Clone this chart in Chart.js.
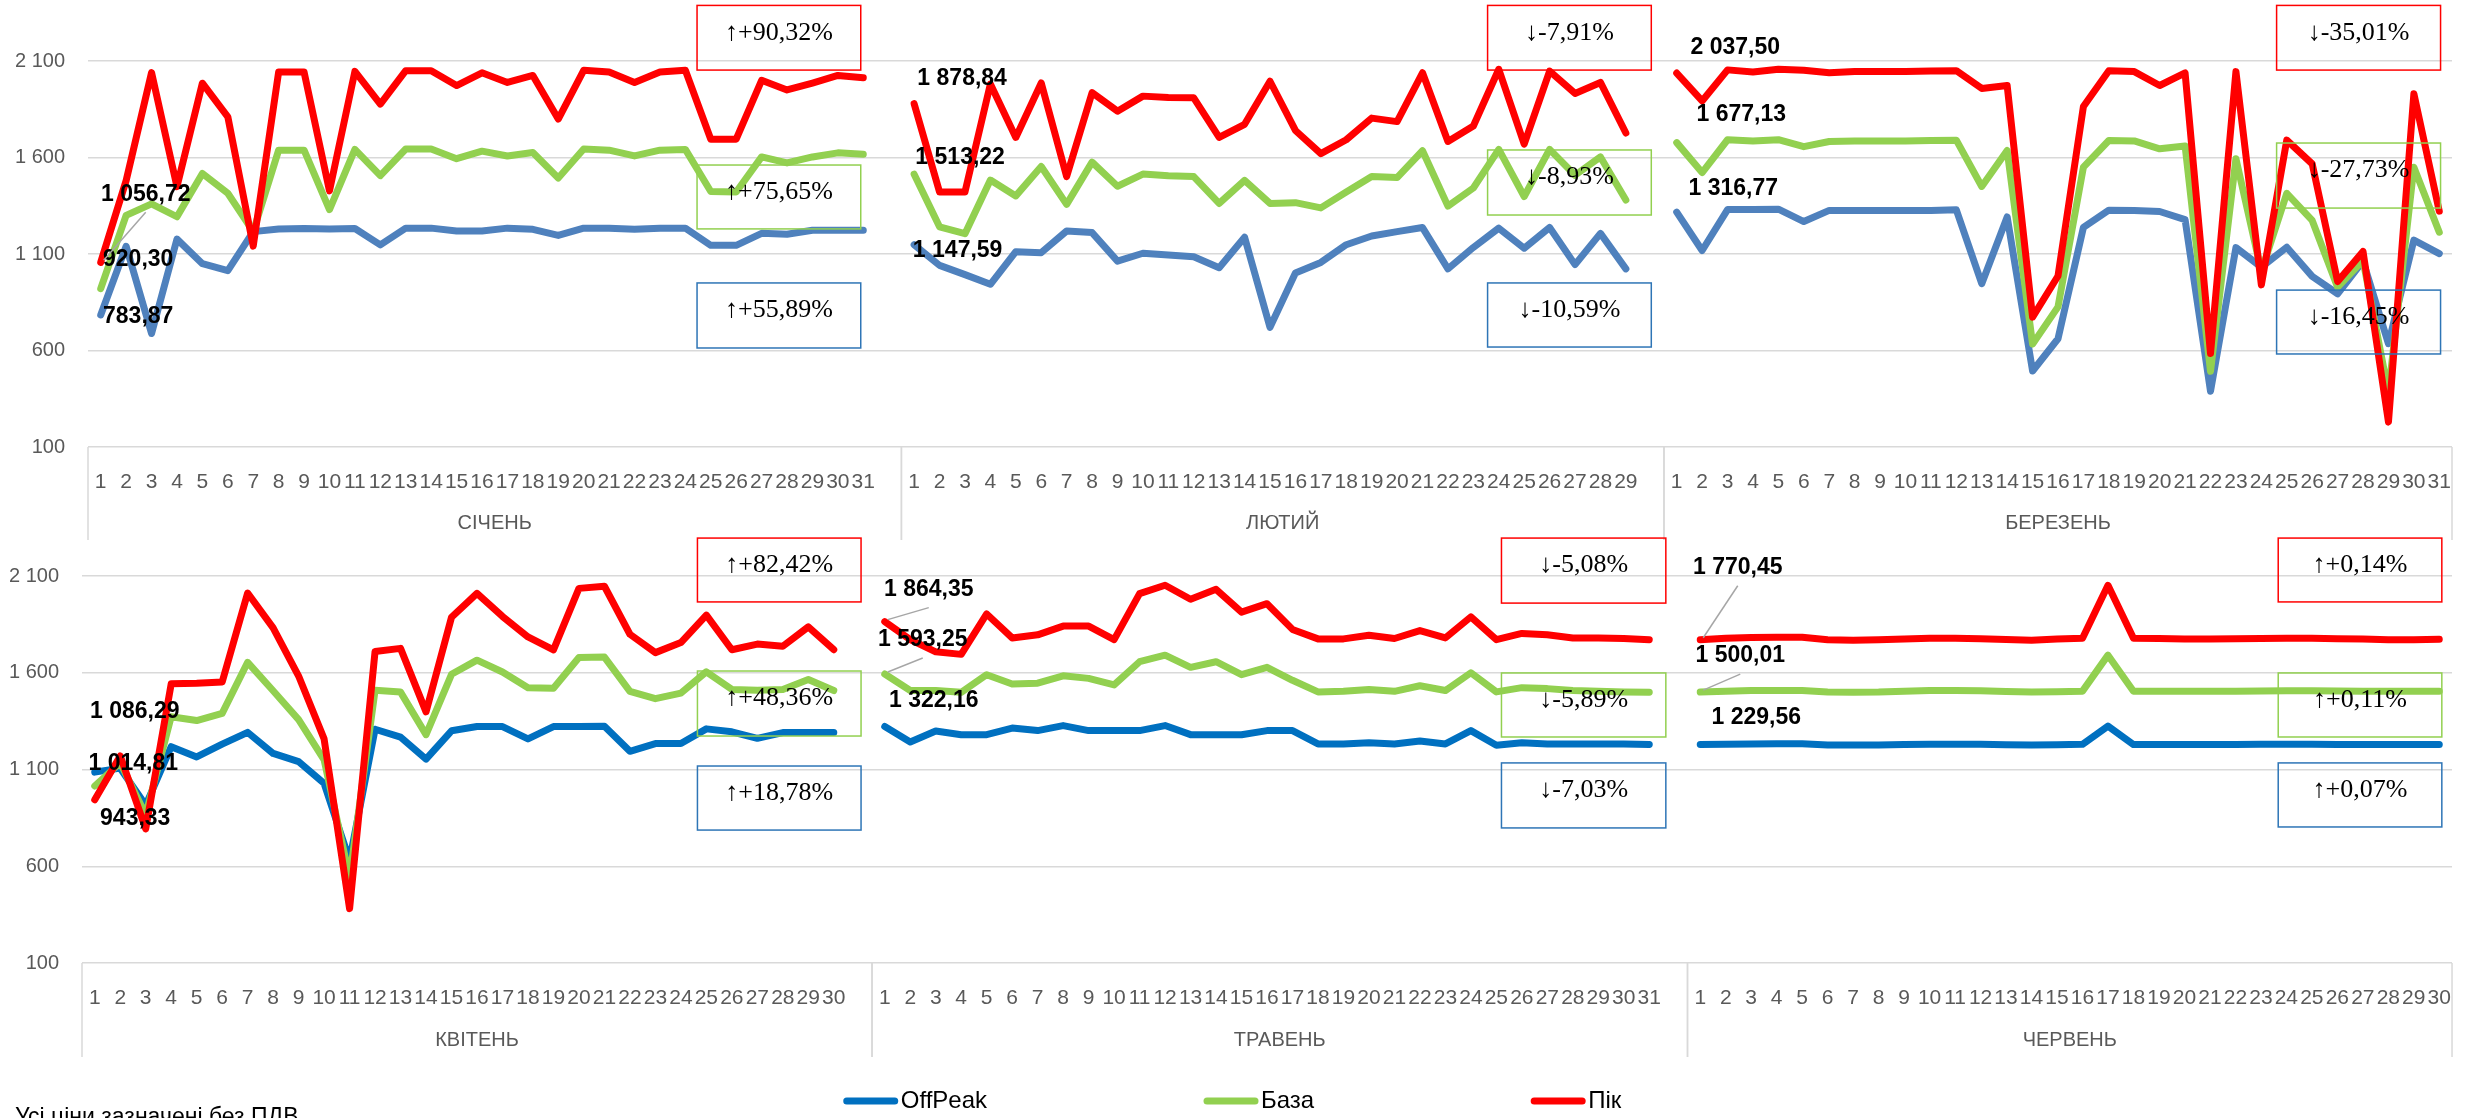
<!DOCTYPE html>
<html>
<head>
<meta charset="utf-8">
<script src="https://cdn.jsdelivr.net/npm/chart.js@4.4.0/dist/chart.umd.min.js"></script>
<style>
  html, body { margin: 0; padding: 0; background: #fff; }
  #wrap { position: relative; width: 2466px; height: 1118px; overflow: hidden; }
  canvas { position: absolute; left: 0; }
  #topRow { top: 0; }
  #bottomRow { top: 530px; }
</style>
</head>
<body>
<div id="wrap">
  <canvas id="topRow" width="2466" height="540"></canvas>
  <canvas id="bottomRow" width="2466" height="588"></canvas>
</div>
<script>
// series names (legend)
const seriesNames = ["OffPeak", "База", "Пік"];

// months
const monthsTop = ["СІЧЕНЬ", "ЛЮТИЙ", "БЕРЕЗЕНЬ"];
const monthsBottom = ["КВІТЕНЬ", "ТРАВЕНЬ", "ЧЕРВЕНЬ"];
const daysTop = [31, 29, 31];
const daysBottom = [30, 31, 30];
const yTicks = [100, 600, 1100, 1600, 2100];

// daily prices, грн/МВт·год
const janOffPeak = [783.87, 1140, 688, 1177, 1050, 1014, 1216, 1230, 1232, 1230, 1232, 1147, 1234, 1234, 1219, 1219, 1234, 1228, 1196, 1234, 1234, 1228, 1234, 1234, 1145, 1145, 1207, 1202, 1223, 1223, 1223];
const janBaza = [920.30, 1300, 1360, 1293, 1517, 1415, 1216, 1638, 1638, 1330, 1642, 1506, 1644, 1644, 1594, 1633, 1608, 1626, 1494, 1644, 1638, 1608, 1638, 1642, 1424, 1421, 1603, 1572, 1603, 1624, 1617];
const janPik = [1056.72, 1480, 2040, 1449, 1985, 1811, 1141, 2043, 2043, 1427, 2046, 1877, 2050, 2050, 1973, 2039, 1989, 2025, 1799, 2052, 2043, 1989, 2043, 2052, 1695, 1695, 2000, 1950, 1986, 2025, 2013];

const febOffPeak = [1147.59, 1041, 993, 943, 1112, 1107, 1219, 1211, 1063, 1104, 1095, 1086, 1029, 1187, 720, 1002, 1056, 1148, 1193, 1216, 1237, 1023, 1134, 1234, 1130, 1237, 1045, 1207, 1023];
const febBaza = [1513.22, 1241, 1205, 1483, 1401, 1553, 1357, 1576, 1451, 1514, 1505, 1501, 1362, 1481, 1362, 1366, 1339, 1421, 1501, 1496, 1635, 1348, 1442, 1642, 1398, 1642, 1508, 1603, 1380];
const febPik = [1878.84, 1421, 1421, 1981, 1704, 1986, 1501, 1936, 1840, 1918, 1911, 1909, 1704, 1772, 1995, 1740, 1620, 1692, 1804, 1786, 2039, 1683, 1763, 2057, 1669, 2048, 1932, 1989, 1727];

const marOffPeak = [1316.77, 1118, 1330, 1330, 1332, 1268, 1326, 1326, 1326, 1326, 1326, 1329, 946, 1292, 494, 661, 1238, 1327, 1326, 1320, 1278, 389, 1133, 1032, 1135, 984, 894, 1063, 635, 1172, 1102];
const marBaza = [1677.13, 1522, 1692, 1686, 1692, 1656, 1683, 1686, 1686, 1686, 1688, 1690, 1450, 1636, 633, 826, 1550, 1688, 1686, 1645, 1660, 492, 1594, 1010, 1414, 1274, 928, 1067, 380, 1550, 1213];
const marPik = [2037.50, 1893, 2054, 2043, 2057, 2052, 2039, 2045, 2045, 2045, 2048, 2050, 1958, 1973, 773, 986, 1864, 2050, 2045, 1973, 2038, 585, 2045, 940, 1690, 1567, 957, 1113, 229, 1930, 1322];

const aprOffPeak = [1086.29, 1107, 915, 1218, 1165, 1231, 1292, 1183, 1141, 1028, 630, 1308, 1267, 1154, 1300, 1322, 1322, 1258, 1322, 1322, 1324, 1194, 1234, 1234, 1310, 1295, 1261, 1291, 1291, 1291];
const aprBaza = [1014.81, 1135, 866, 1373, 1353, 1390, 1654, 1507, 1358, 1150, 540, 1509, 1500, 1280, 1592, 1665, 1604, 1522, 1520, 1679, 1681, 1504, 1466, 1495, 1605, 1514, 1510, 1514, 1565, 1508];
const aprPik = [943.33, 1170, 793, 1543, 1546, 1552, 2012, 1832, 1583, 1258, 381, 1710, 1726, 1398, 1887, 2010, 1891, 1785, 1718, 2036, 2047, 1799, 1704, 1756, 1898, 1719, 1748, 1737, 1837, 1719];

const mayOffPeak = [1322.16, 1242, 1299, 1280, 1280, 1314, 1301, 1327, 1301, 1301, 1301, 1327, 1280, 1280, 1280, 1301, 1301, 1232, 1232, 1238, 1232, 1247, 1232, 1301, 1225, 1238, 1232, 1232, 1232, 1232, 1229];
const mayBaza = [1593.25, 1508, 1508, 1499, 1590, 1542, 1546, 1584, 1571, 1537, 1657, 1691, 1628, 1657, 1590, 1628, 1561, 1501, 1504, 1514, 1504, 1533, 1508, 1600, 1501, 1523, 1518, 1508, 1504, 1501, 1499];
const mayPik = [1864.35, 1771, 1708, 1695, 1904, 1780, 1796, 1841, 1841, 1771, 2009, 2052, 1980, 2031, 1913, 1957, 1824, 1775, 1775, 1794, 1777, 1818, 1780, 1889, 1771, 1803, 1796, 1780, 1780, 1777, 1771];

const junOffPeak = [1229.56, 1231, 1232, 1233, 1233, 1227, 1226, 1227, 1229, 1231, 1231, 1230, 1228, 1227, 1228, 1230, 1324, 1229, 1229, 1229, 1229, 1229, 1230, 1230, 1230, 1229, 1229, 1229, 1229, 1229];
const junBaza = [1500.01, 1505, 1508, 1508, 1508, 1501, 1499, 1500, 1505, 1508, 1508, 1507, 1503, 1500, 1502, 1505, 1691, 1504, 1504, 1504, 1504, 1505, 1506, 1507, 1507, 1506, 1505, 1504, 1504, 1504];
const junPik = [1770.45, 1778, 1782, 1783, 1783, 1770, 1768, 1770, 1774, 1778, 1778, 1776, 1772, 1768, 1774, 1778, 2052, 1778, 1777, 1775, 1775, 1776, 1777, 1778, 1778, 1776, 1774, 1771, 1771, 1773];

// change vs previous period, per month: [Пік, База, OffPeak]
const pctTop = [["↑+90,32%", "↑+75,65%", "↑+55,89%"], ["↓-7,91%", "↓-8,93%", "↓-10,59%"], ["↓-35,01%", "↓-27,73%", "↓-16,45%"]];
const pctBottom = [["↑+82,42%", "↑+48,36%", "↑+18,78%"], ["↓-5,08%", "↓-5,89%", "↓-7,03%"], ["↑+0,14%", "↑+0,11%", "↑+0,07%"]];

// ---- look & placement (not data) ----
const FONT = "'Liberation Sans', Arial, sans-serif";
const SERIF = "'Liberation Serif', 'Times New Roman', serif";
const GRID = "#d9d9d9";
const TXT = "#595959";
const boxColors = ["#ff0000", "#92d050", "#2e75b6"];

// box spans: [x from, x to] in category units, then y ranges per box [top, bottom] in value units
const boxSpanTop = [[23.46, 29.9], [54.56, 61.0], [85.6, 92.05]];
const boxRangeTop = [[[2388, 2053], [1561, 1230], [950, 613]], [[2388, 2053], [1639, 1302], [950, 618]], [[2388, 2053], [1675, 1338], [913, 582]]];
const boxSpanBottom = [[23.65, 30.07], [55.2, 61.65], [85.68, 92.1]];
const boxRangeBottom = [[[2296, 1966], [1609, 1273], [1118, 787]], [[2296, 1960], [1599, 1268], [1134, 798]], [[2296, 1966], [1599, 1268], [1134, 803]]];

// first-day label offsets [dx, dy, leader] per month, per series (OffPeak, База, Пік)
const labOffTop = [[[37.5, 2, 0], [37.5, -29, 0], [45, -68, 1]], [[43.5, 6, 0], [46, -17, 0], [48, -25, 0]], [[56.5, -24, 0], [64.5, -28, 0], [58.5, -25, 0]]];
const labOffBottom = [[[40, -60, 0], [38.5, -22, 0], [40.5, 19, 0]], [[49, -25.5, 0], [38, -34, 1], [44, -32, 1]], [[56, -27, 0], [40, -36, 1], [37.5, -72, 1]]];

function buildLabels(days) {
  let out = [];
  days.forEach((n, k) => {
    for (let d = 1; d <= n; d++) out.push(String(d));
    if (k < days.length - 1) out.push("");
  });
  return out;
}
function joinMonths(parts) {
  let out = [];
  parts.forEach((p, k) => {
    out = out.concat(p);
    if (k < parts.length - 1) out.push(null);
  });
  return out;
}
function spaced(s) {
  return s.replace(/\B(?=(\d{3})+(?!\d))/g, " ");
}
function fmt2(v) {
  const parts = v.toFixed(2).split(".");
  return spaced(parts[0]) + "," + parts[1];
}

// draws month table, percent boxes, first-day labels, legend
const rowDecor = {
  id: "rowDecor",
  afterDraw(chart, args, o) {
    const ctx = chart.ctx, x = chart.scales.x, y = chart.scales.y, ca = chart.chartArea;
    const step = x.getPixelForValue(1) - x.getPixelForValue(0);
    const px = i => x.getPixelForValue(0) + i * step;
    ctx.save();

    // month groups under the day labels
    let start = 0;
    o.days.forEach((n, k) => {
      const size = n + (k < o.days.length - 1 ? 1 : 0);
      ctx.strokeStyle = GRID;
      ctx.lineWidth = 1.5;
      [start - 0.5, start + size - 0.5].forEach(e => {
        ctx.beginPath();
        ctx.moveTo(px(e), ca.bottom);
        ctx.lineTo(px(e), ca.bottom + o.divLen);
        ctx.stroke();
      });
      ctx.fillStyle = TXT;
      ctx.font = "20px " + FONT;
      ctx.textAlign = "center";
      ctx.textBaseline = "middle";
      ctx.fillText(o.months[k], px(start + (size - 1) / 2), ca.bottom + o.monthY);

      // first-day value labels
      chart.data.datasets.forEach((ds, d) => {
        const v = ds.data[start];
        const p = { x: px(start), y: y.getPixelForValue(v) };
        const off = o.labOff[k][d];
        const lx = p.x + off[0], ly = p.y + off[1];
        if (off[2]) {
          ctx.strokeStyle = "#a6a6a6";
          ctx.lineWidth = 1.5;
          ctx.beginPath();
          ctx.moveTo(lx, ly + 18);
          ctx.lineTo(p.x + 3, p.y - 2);
          ctx.stroke();
        }
        ctx.fillStyle = "#000";
        ctx.font = "bold 23px " + FONT;
        ctx.fillText(fmt2(v), lx, ly);
      });

      // percent boxes
      o.pct[k].forEach((t, b) => {
        const x0 = px(o.boxSpan[k][0]), x1 = px(o.boxSpan[k][1]);
        const y0 = y.getPixelForValue(o.boxRange[k][b][0]), y1 = y.getPixelForValue(o.boxRange[k][b][1]);
        ctx.strokeStyle = boxColors[b];
        ctx.lineWidth = 1.5;
        ctx.strokeRect(x0, y0, x1 - x0, y1 - y0);
        ctx.fillStyle = "#000";
        ctx.font = "26px " + SERIF;
        ctx.fillText(t, (x0 + x1) / 2, (y0 + y1) / 2 - 5);
      });
      start += size;
    });

    // legend
    if (o.legendY) {
      ctx.font = "24px " + FONT;
      const line = 56, gap = 214;
      const widths = chart.data.datasets.map(ds => ctx.measureText(ds.label).width);
      let total = widths.reduce((a, w) => a + w + line + 4, 0) + gap * (widths.length - 1);
      let cx = chart.width / 2 - total / 2;
      ctx.textAlign = "left";
      chart.data.datasets.forEach((ds, d) => {
        ctx.strokeStyle = ds.borderColor;
        ctx.lineWidth = 7;
        ctx.lineCap = "round";
        ctx.beginPath();
        ctx.moveTo(cx + 4, o.legendY);
        ctx.lineTo(cx + line - 4, o.legendY);
        ctx.stroke();
        ctx.fillStyle = "#000";
        ctx.fillText(ds.label, cx + line + 2, o.legendY);
        cx += line + 4 + widths[d] + gap;
      });
      // footnote, cut by the picture's lower edge
      ctx.font = "23px " + FONT;
      ctx.textBaseline = "alphabetic";
      ctx.fillText(o.note, 15, o.legendY + 23);
    }
    ctx.restore();
  }
};

function makeRow(id, cfg) {
  const datasets = [cfg.offpeak, cfg.baza, cfg.pik].map((data, d) => ({
    label: seriesNames[d],
    data: data,
    borderColor: cfg.colors[d],
    backgroundColor: cfg.colors[d],
    borderWidth: 7,
    pointRadius: 0,
    tension: 0,
    spanGaps: false,
    borderJoinStyle: "round",
    borderCapStyle: "round",
    order: 2 - d
  }));
  return new Chart(document.getElementById(id), {
    type: "line",
    data: { labels: cfg.labels, datasets: datasets },
    plugins: [rowDecor],
    options: {
      responsive: false,
      animation: false,
      devicePixelRatio: 1,
      layout: { padding: { top: cfg.padTop, right: cfg.padRight, bottom: 0, left: 0 } },
      plugins: {
        legend: { display: false },
        tooltip: { enabled: false },
        rowDecor: cfg.decor
      },
      scales: {
        x: {
          offset: true,
          grid: { display: false },
          border: { display: false },
          ticks: { autoSkip: false, maxRotation: 0, minRotation: 0, padding: 15, color: TXT, font: { family: FONT, size: 21 } },
          afterFit: s => { s.height = cfg.xHeight; }
        },
        y: {
          min: 100,
          max: 2100,
          afterBuildTicks: s => { s.ticks = yTicks.map(v => ({ value: v })); },
          grid: { color: GRID, lineWidth: 1.5, drawTicks: false },
          border: { display: false },
          ticks: { padding: 23, color: TXT, font: { family: FONT, size: 20 }, callback: v => spaced(String(v)) },
          afterFit: s => { s.width = cfg.yWidth; }
        }
      }
    }
  });
}

makeRow("topRow", {
  labels: buildLabels(daysTop),
  offpeak: joinMonths([janOffPeak, febOffPeak, marOffPeak]),
  baza: joinMonths([janBaza, febBaza, marBaza]),
  pik: joinMonths([janPik, febPik, marPik]),
  colors: ["#4f81bd", "#92d050", "#ff0000"],
  padTop: 61, padRight: 6, xHeight: 93, yWidth: 88,
  decor: { days: daysTop, months: monthsTop, divLen: 93, monthY: 76, pct: pctTop, boxSpan: boxSpanTop, boxRange: boxRangeTop, labOff: labOffTop }
});

makeRow("bottomRow", {
  labels: buildLabels(daysBottom),
  offpeak: joinMonths([aprOffPeak, mayOffPeak, junOffPeak]),
  baza: joinMonths([aprBaza, mayBaza, junBaza]),
  pik: joinMonths([aprPik, mayPik, junPik]),
  colors: ["#0070c0", "#92d050", "#ff0000"],
  padTop: 46, padRight: 8, xHeight: 155, yWidth: 82,
  decor: { days: daysBottom, months: monthsBottom, divLen: 94, monthY: 77, pct: pctBottom, boxSpan: boxSpanBottom, boxRange: boxRangeBottom, labOff: labOffBottom, legendY: 571, note: "Усі ціни зазначені без ПДВ" }
});
</script>
</body>
</html>
